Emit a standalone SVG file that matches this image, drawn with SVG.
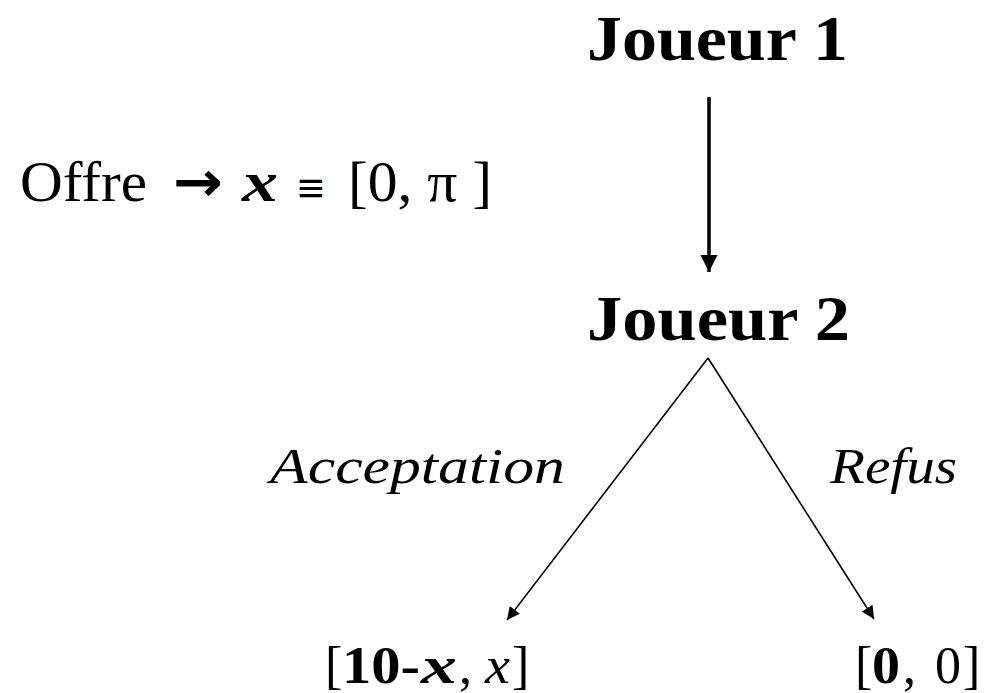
<svg xmlns="http://www.w3.org/2000/svg" width="992" height="693" viewBox="0 0 992 693">
<style>
text{font-family:"Liberation Serif","Times New Roman",serif;fill:#000}
.node{font-weight:bold;font-size:63px}
.lab{font-style:italic;font-size:50px}
.b{font-weight:bold}
.i{font-style:italic}
</style>
<defs>
<marker id="big" viewBox="0 0 10 10" refX="10" refY="5" markerWidth="5" markerHeight="5" markerUnits="strokeWidth" orient="auto">
<path d="M0,0 L10,5 L0,10 Z" fill="#000"/>
</marker>
<marker id="small" viewBox="0 0 10 10" refX="10" refY="5" markerWidth="8" markerHeight="8" markerUnits="strokeWidth" orient="auto">
<path d="M0,0 L10,5 L0,10 Z" fill="#000"/>
</marker>
</defs>
<rect width="992" height="693" fill="#fff"/>
<g id="joueur1"><text class="node" x="587" y="60" textLength="261" lengthAdjust="spacingAndGlyphs">Joueur 1</text></g>
<g id="joueur2"><text class="node" x="587" y="340" textLength="263" lengthAdjust="spacingAndGlyphs">Joueur 2</text></g>
<g id="issue-acceptation"><text font-size="52" y="683"><tspan x="325">[</tspan><tspan class="b" x="342" textLength="78" lengthAdjust="spacingAndGlyphs">10-</tspan><tspan class="b i" x="421" textLength="36" lengthAdjust="spacingAndGlyphs">x</tspan><tspan x="459">,</tspan><tspan class="i" x="485" textLength="25" lengthAdjust="spacingAndGlyphs">x</tspan><tspan x="512">]</tspan></text></g>
<g id="issue-refus"><text font-size="52" y="683"><tspan x="855">[</tspan><tspan class="b" x="872" textLength="28" lengthAdjust="spacingAndGlyphs">0</tspan><tspan x="903">,</tspan><tspan x="935">0</tspan><tspan x="963">]</tspan></text></g>
<g id="connectors" stroke="#000" fill="none">
<line x1="709" y1="97" x2="709" y2="272" stroke-width="3.5" marker-end="url(#big)"/>
<line x1="708" y1="358" x2="507" y2="620" stroke-width="1.6" marker-end="url(#small)"/>
<line x1="708" y1="358" x2="874" y2="619" stroke-width="1.6" marker-end="url(#small)"/>
</g>
<g id="labels">
<text font-size="56" y="201"><tspan x="20" textLength="127" lengthAdjust="spacingAndGlyphs">Offre</tspan><tspan x="173" class="b" font-family="DejaVu Sans" textLength="50" lengthAdjust="spacingAndGlyphs">→</tspan><tspan x="242" class="b i" textLength="36" lengthAdjust="spacingAndGlyphs">x</tspan><tspan x="296" font-size="40" font-family="DejaVu Serif" textLength="30" lengthAdjust="spacingAndGlyphs">≡</tspan><tspan x="348" textLength="144" lengthAdjust="spacingAndGlyphs">[0, π ]</tspan></text>
<text class="lab" x="270" y="483" textLength="295" lengthAdjust="spacingAndGlyphs">Acceptation</text>
<text class="lab" x="830" y="483" textLength="127" lengthAdjust="spacingAndGlyphs">Refus</text>
</g>
</svg>
